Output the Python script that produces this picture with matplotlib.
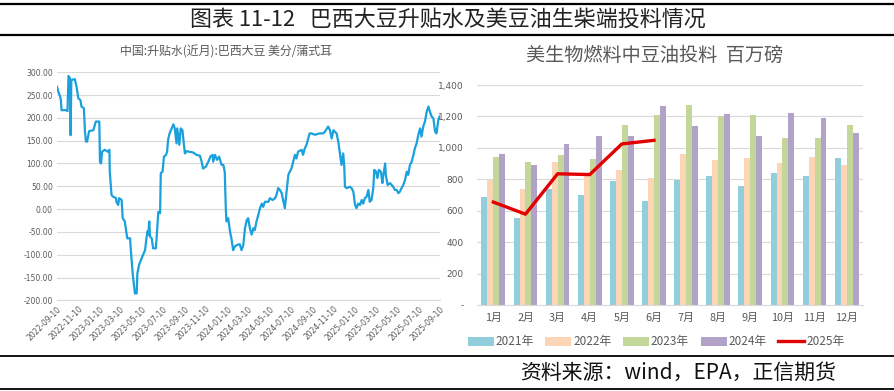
import matplotlib
matplotlib.use("Agg")
import matplotlib.pyplot as plt
from matplotlib.lines import Line2D
from matplotlib.patches import Patch
import numpy as np
import pandas as pd

plt.rcParams['font.family'] = ['Noto Sans CJK SC', 'DejaVu Sans']

# ---------------- data: left chart ----------------
prem_dates = [
    "2022-09-10", "2022-09-14", "2022-09-19", "2022-09-21", "2022-09-23", "2022-10-06", "2022-10-10",
    "2022-10-13", "2022-10-17", "2022-10-19", "2022-10-21", "2022-10-31", "2022-11-05", "2022-11-10",
    "2022-11-16", "2022-11-19", "2022-11-26", "2022-11-29", "2022-12-02", "2022-12-05", "2022-12-11",
    "2022-12-23", "2022-12-30", "2023-01-09", "2023-01-11", "2023-01-14", "2023-01-17", "2023-01-25",
    "2023-02-02", "2023-02-07", "2023-02-08", "2023-02-13", "2023-02-18", "2023-02-26", "2023-02-27",
    "2023-03-04", "2023-03-07", "2023-03-14", "2023-03-17", "2023-03-23", "2023-03-30", "2023-04-07",
    "2023-04-11", "2023-04-16", "2023-04-21", "2023-04-26", "2023-04-28", "2023-05-03", "2023-05-10",
    "2023-05-20", "2023-05-24", "2023-05-27", "2023-05-29", "2023-06-01", "2023-06-03", "2023-06-08",
    "2023-06-12", "2023-06-20", "2023-06-24", "2023-06-27", "2023-07-02", "2023-07-04", "2023-07-09",
    "2023-07-13", "2023-07-19", "2023-07-22", "2023-07-25", "2023-07-28", "2023-08-02", "2023-08-09",
    "2023-08-13", "2023-08-18", "2023-08-20", "2023-08-26", "2023-08-30", "2023-09-04", "2023-09-07",
    "2023-09-11", "2023-09-16", "2023-10-05", "2023-10-14", "2023-10-24", "2023-10-29", "2023-11-02",
    "2023-11-10", "2023-11-17", "2023-11-23", "2023-11-29", "2023-12-01", "2023-12-06", "2023-12-12",
    "2023-12-18", "2023-12-25", "2023-12-30", "2024-01-03", "2024-01-06", "2024-01-08", "2024-01-13",
    "2024-01-18", "2024-01-22", "2024-01-27", "2024-02-01", "2024-02-06", "2024-02-15", "2024-02-20",
    "2024-02-25", "2024-03-01", "2024-03-06", "2024-03-10", "2024-03-15", "2024-03-20", "2024-03-25",
    "2024-03-29", "2024-04-03", "2024-04-08", "2024-04-13", "2024-04-18", "2024-04-22", "2024-04-27",
    "2024-05-07", "2024-05-11", "2024-05-19", "2024-05-26", "2024-05-30", "2024-06-04", "2024-06-09",
    "2024-06-14", "2024-06-18", "2024-06-23", "2024-06-28", "2024-07-03", "2024-07-07", "2024-07-12",
    "2024-07-17", "2024-07-22", "2024-07-26", "2024-07-31", "2024-08-10", "2024-08-14", "2024-08-19",
    "2024-08-24", "2024-08-28", "2024-09-02", "2024-09-07", "2024-09-17", "2024-10-01", "2024-10-11",
    "2024-10-16", "2024-10-25", "2024-10-30", "2024-11-04", "2024-11-09", "2024-11-13", "2024-11-18",
    "2024-11-23", "2024-11-28", "2024-12-02", "2024-12-07", "2024-12-10", "2024-12-12", "2024-12-17",
    "2024-12-26", "2024-12-31", "2025-01-05", "2025-01-10", "2025-01-14", "2025-01-19", "2025-01-24",
    "2025-01-29", "2025-02-02", "2025-02-07", "2025-02-12", "2025-02-17", "2025-02-21", "2025-02-26",
    "2025-03-03", "2025-03-06", "2025-03-11", "2025-03-15", "2025-03-19", "2025-03-25", "2025-03-29",
    "2025-04-01", "2025-04-06", "2025-04-08", "2025-04-13", "2025-04-20", "2025-04-29", "2025-05-04",
    "2025-05-09", "2025-05-14", "2025-05-18", "2025-05-23", "2025-05-28", "2025-06-02", "2025-06-07",
    "2025-06-11", "2025-06-16", "2025-06-21", "2025-06-26", "2025-06-30", "2025-07-05", "2025-07-10",
    "2025-07-15", "2025-07-19", "2025-07-24", "2025-07-29", "2025-08-03", "2025-08-08", "2025-08-12",
    "2025-08-17", "2025-08-22", "2025-08-27", "2025-08-31", "2025-09-05", "2025-09-09",
]
prem_values = [
    268, 257, 247, 239, 217, 217, 215,
    292, 287, 162, 283, 285, 268, 243,
    239, 225, 221, 170, 148, 148, 171,
    173, 192, 192, 104, 100, 126, 130,
    126, 130, 82, 31, 27, 24, 16,
    9, 24, 20, -20, -27, -64, -64,
    -108, -152, -185, -185, -141, -122, -108,
    -90, -64, -49, -56, -27, -60, -64,
    -86, -86, -42, -6, -9, 79, 82,
    115, 119, 126, 152, 163, 173, 186,
    177, 144, 177, 141, 177, 173, 150,
    122, 127, 124, 119, 117, 104, 89,
    93, 104, 115, 119, 104, 119, 108,
    115, 97, 97, 82, 2, -27, -20,
    -49, -64, -90, -82, -79, -77, -90,
    -79, -42, -24, -20, -42, -56, -42,
    -46, -27, -13, 2, 12, 5, 16,
    16, 24, 20, 24, 31, 46, 42,
    35, 20, 2, 38, 75, 82, 89,
    104, 119, 111, 126, 130, 119, 133,
    141, 152, 166, 166, 163, 166, 166,
    170, 181, 173, 155, 173, 170, 166,
    148, 119, 97, 122, 93, 49, 46,
    49, 46, 38, 9, 2, 12, 9,
    20, 12, 24, 27, 42, 16, 20,
    46, 86, 82, 68, 86, 82, 57,
    75, 100, 75, 53, 57, 49, 42,
    42, 35, 38, 46, 53, 64, 82,
    75, 97, 104, 119, 133, 144, 163,
    177, 159, 181, 192, 214, 225, 214,
    203, 199, 170, 166, 195, 203,
]
prem_ticks = ["2022-09-10", "2022-11-10", "2023-01-10", "2023-03-10", "2023-05-10", "2023-07-10",
              "2023-09-10", "2023-11-10", "2024-01-10", "2024-03-10", "2024-05-10", "2024-07-10",
              "2024-09-10", "2024-11-10", "2025-01-10", "2025-03-10", "2025-05-10", "2025-07-10",
              "2025-09-10"]
prem_yticks = [-200, -150, -100, -50, 0, 50, 100, 150, 200, 250, 300]

# ---------------- data: right chart ----------------
months = ["1月", "2月", "3月", "4月", "5月", "6月", "7月", "8月", "9月", "10月", "11月", "12月"]
y2021 = [685, 555, 738, 703, 787, 662, 797, 818, 760, 837, 818, 937]
y2022 = [798, 740, 912, 825, 860, 810, 960, 925, 935, 905, 940, 888]
y2023 = [943, 912, 955, 930, 1143, 1210, 1275, 1200, 1210, 1060, 1060, 1145]
y2024 = [960, 890, 1025, 1073, 1078, 1268, 1138, 1215, 1078, 1225, 1192, 1097]
y2025 = [655, 578, 835, 830, 1025, 1048]
bar_series = ["2021年", "2022年", "2023年", "2024年"]
line_series = "2025年"
oil_yticks = [0, 200, 400, 600, 800, 1000, 1200, 1400]

# ---------------- figure ----------------
W, H = 895, 391
fig = plt.figure(figsize=(W / 100, H / 100), dpi=100)
fig.patch.set_facecolor("white")

def fx(px):
    return px / W

def fy(py):
    return 1 - py / H

# header / footer rules
for yy, lw in [(4, 1.6), (35, 1.6), (356, 1.3), (389, 1.3)]:
    fig.add_artist(Line2D([0, 1], [fy(yy), fy(yy)], transform=fig.transFigure, color="black", lw=lw))

fig.text(0.5, fy(20), "图表 11-12   巴西大豆升贴水及美豆油生柴端投料情况", ha="center", va="center",
         fontsize=15.8, color="#222222")
fig.text(fx(678), fy(373), "资料来源：wind，EPA，正信期货", ha="center", va="center",
         fontsize=15, color="#111111")

gray = "#595959"
grid_c = "#D9D9D9"

# ---------------- left chart ----------------
axL = fig.add_axes([fx(57), fy(300.3), fx(440) - fx(57), fy(72.3) - fy(300.3)])
d = pd.to_datetime(prem_dates)
axL.plot(d, prem_values, color="#1AA0DC", lw=1.6, solid_joinstyle="round")
axL.set_ylim(-200, 300)
axL.set_xlim(pd.Timestamp(prem_ticks[0]), pd.Timestamp(prem_ticks[-1]))
axL.set_yticks(prem_yticks)
axL.set_yticklabels([f"{v:.2f}" for v in prem_yticks], fontsize=5.5, color=gray,
                    family=["DejaVu Sans"])
tick_d = pd.to_datetime(prem_ticks)
axL.set_xticks(tick_d)
axL.set_xticklabels(prem_ticks, rotation=45, ha="right", va="top", rotation_mode="anchor",
                    fontsize=5.5, color=gray, family=["DejaVu Sans"])
axL.tick_params(axis="both", length=0, pad=3)
axL.grid(axis="y", color=grid_c, lw=0.8)
axL.set_axisbelow(True)
for s in ["top", "right", "left"]:
    axL.spines[s].set_visible(False)
axL.spines["bottom"].set_color(grid_c)
axL.spines["bottom"].set_linewidth(0.8)
fig.text(fx(226), fy(52), "中国:升贴水(近月):巴西大豆 美分/蒲式耳", ha="center", va="center",
         fontsize=8.6, color=gray)

# ---------------- right chart ----------------
axR = fig.add_axes([fx(477.3), fy(305), fx(862.8) - fx(477.3), fy(85) - fy(305)])
x = np.arange(len(months))
colors = ["#92CDDC", "#FBD5B5", "#C4D79B", "#B3A2C7"]
bw = 0.185
for i, (vals, c, lab) in enumerate(zip([y2021, y2022, y2023, y2024], colors, bar_series)):
    axR.bar(x + (i - 1.5) * bw, vals, width=bw, color=c, label=lab, zorder=2)
axR.plot(x[:len(y2025)], y2025, color="#E30000", lw=2.4, zorder=3, label=line_series)
axR.set_xlim(-0.5, 11.5)
axR.set_ylim(0, 1400)
axR.set_yticks(oil_yticks)
axR.set_yticklabels(["-" if v == 0 else f"{v:,}" for v in oil_yticks], fontsize=6.5, color=gray,
                    family=["DejaVu Sans"])
axR.set_xticks(x)
axR.set_xticklabels(months, fontsize=7.8, color=gray)
axR.tick_params(axis="both", length=0)
axR.tick_params(axis="y", pad=10)
axR.tick_params(axis="x", pad=6)
axR.grid(axis="y", color=grid_c, lw=0.8)
axR.set_axisbelow(True)
for s in ["top", "right", "left"]:
    axR.spines[s].set_visible(False)
axR.spines["bottom"].set_color(grid_c)
axR.spines["bottom"].set_linewidth(0.8)
fig.text(fx(655), fy(55), "美生物燃料中豆油投料  百万磅", ha="center", va="center",
         fontsize=13.8, color=gray)

handles = [Patch(facecolor=c, edgecolor="none") for c in colors] + \
          [Line2D([0], [0], color="#E30000", lw=2.4)]
fig.legend(handles, bar_series + [line_series], loc="center", bbox_to_anchor=(fx(656), fy(342)),
           ncol=5, frameon=False, fontsize=8.5, handlelength=2.2, handleheight=0.9,
           handletextpad=0.15, columnspacing=1.0, labelcolor=gray)

fig.savefig("out.png", dpi=100, facecolor="white")
